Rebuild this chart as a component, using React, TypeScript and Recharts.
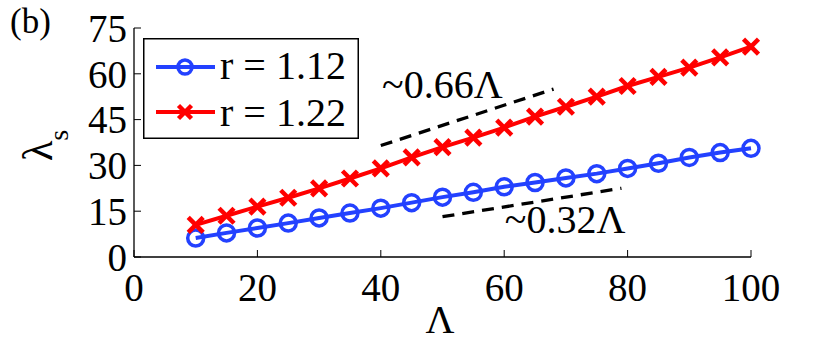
import React from 'react';
import { LineChart, Line, XAxis, YAxis, Legend, ReferenceDot, Customized } from 'recharts';

const lambdaValues = [10, 15, 20, 25, 30, 35, 40, 45, 50, 55, 60, 65, 70, 75, 80, 85, 90, 95, 100];
const r112Values = [6.2, 7.9, 9.5, 11.1, 12.8, 14.4, 16.0, 17.8, 19.6, 21.2, 23.0, 24.4, 25.9, 27.3, 29.0, 30.7, 32.6, 34.2, 35.6];
const r122Values = [10.5, 13.5, 16.5, 19.4, 22.5, 25.7, 29.0, 32.6, 36.0, 39.1, 42.4, 46.0, 49.2, 52.5, 56.0, 59.0, 62.0, 65.4, 68.9];
const xTicks = [0, 20, 40, 60, 80, 100];
const yTicks = [0, 15, 30, 45, 60, 75];
const guide066 = [{ x: 40, y: 36.5 }, { x: 68, y: 55 }];
const guide032 = [{ x: 50, y: 13.2 }, { x: 79, y: 22.5 }];
const seriesNames = ['r = 1.12', 'r = 1.22'];

const data = lambdaValues.map((x, i) => ({ x, a: r112Values[i], b: r122Values[i] }));

const FONT = 'Liberation Serif';
const BLUE = '#2341ff';
const RED = '#ff0000';

const Cross = (props: any) => {
  const { cx, cy, stroke, size = 7 } = props;
  if (cx == null || cy == null) return null;
  return (
    <g>
      <line x1={cx - size} y1={cy - size} x2={cx + size} y2={cy + size} stroke={stroke} strokeWidth={4.5} />
      <line x1={cx - size} y1={cy + size} x2={cx + size} y2={cy - size} stroke={stroke} strokeWidth={4.5} />
    </g>
  );
};

const LegendBox = () => (
  <svg width={216} height={101} style={{ display: 'block' }}>
    <rect x={0.75} y={0.75} width={214.5} height={99.5} fill="#fff" stroke="#000" strokeWidth={1.5} />
    <line x1={13} y1={29} x2={72} y2={29} stroke={BLUE} strokeWidth={4} />
    <circle cx={42} cy={29} r={7} fill="none" stroke={BLUE} strokeWidth={3.5} />
    <text x={77} y={41} fontFamily={FONT} fontSize={40} fill="#000">{seriesNames[0]}</text>
    <line x1={13} y1={74} x2={72} y2={74} stroke={RED} strokeWidth={4} />
    <Cross cx={42} cy={74} stroke={RED} size={6.5} />
    <text x={77} y={88} fontFamily={FONT} fontSize={40} fill="#000">{seriesNames[1]}</text>
  </svg>
);

const Annotation = (text: string) => (props: any) => (
  <text x={props.cx} y={props.cy} fontFamily={FONT} fontSize={40} fill="#000">{text}</text>
);

const Extras = () => (
  <g fill="#000">
    <text x={10} y={33} fontSize={35} fontFamily={FONT}>(b)</text>
    <text x={440} y={333} fontSize={40} textAnchor="middle" fontFamily={FONT}>Λ</text>
    <text transform="translate(52,161) rotate(-90)" fontSize={42} fontFamily={FONT}>
      λ<tspan fontSize={28} dy={16}>s</tspan>
    </text>
  </g>
);

export default function App() {
  const tickStyle = { fontFamily: FONT, fontSize: 39, fill: '#000' };
  return (
    <div style={{ position: 'absolute', left: 0, top: 0, background: '#fff' }}>
      <LineChart width={830} height={347} data={data} margin={{ top: 28, right: 79, left: 54, bottom: 10 }}>
        <XAxis dataKey="x" type="number" domain={[0, 100]} ticks={xTicks} height={80}
          tickSize={-7} tickMargin={23} tick={tickStyle} interval={0}
          axisLine={{ stroke: '#000', strokeWidth: 1.3 }} tickLine={{ stroke: '#000' }} />
        <XAxis xAxisId="top" orientation="top" dataKey="x" type="number" domain={[0, 100]} ticks={xTicks} height={0}
          tickSize={-7} tickFormatter={() => ''} interval={0}
          axisLine={{ stroke: '#000', strokeWidth: 1.3 }} tickLine={{ stroke: '#000' }} />
        <YAxis type="number" domain={[0, 75]} ticks={yTicks} width={80}
          tickSize={-7} tickMargin={14} tick={tickStyle} interval={0}
          axisLine={{ stroke: '#000', strokeWidth: 1.3 }} tickLine={{ stroke: '#000' }} />
        <YAxis yAxisId="right" orientation="right" type="number" domain={[0, 75]} ticks={yTicks} width={0}
          tickSize={-7} tickFormatter={() => ''} interval={0}
          axisLine={{ stroke: '#000', strokeWidth: 1.3 }} tickLine={{ stroke: '#000' }} />
        <Line data={guide066} dataKey="y" stroke="#000" strokeWidth={3.3} strokeDasharray="12 8"
          dot={false} isAnimationActive={false} legendType="none" />
        <Line data={guide032} dataKey="y" stroke="#000" strokeWidth={3.3} strokeDasharray="12 8"
          dot={false} isAnimationActive={false} legendType="none" />
        <Line dataKey="a" name={seriesNames[0]} stroke={BLUE} strokeWidth={4}
          dot={{ r: 8, stroke: BLUE, strokeWidth: 3.5, fill: 'none' }} isAnimationActive={false} />
        <Line dataKey="b" name={seriesNames[1]} stroke={RED} strokeWidth={4}
          dot={(p: any) => <Cross key={p.index} cx={p.cx} cy={p.cy} stroke={RED} size={7.5} />} isAnimationActive={false} />
        <ReferenceDot x={40.2} y={52.1} r={0} ifOverflow="visible" shape={Annotation('~0.66Λ')} />
        <ReferenceDot x={60.1} y={7.9} r={0} ifOverflow="visible" shape={Annotation('~0.32Λ')} />
        <Legend layout="vertical" align="center" verticalAlign="middle" content={() => <LegendBox />}
          wrapperStyle={{ position: 'absolute', left: 143, top: 38, width: 216, height: 101 }} />
        <Customized component={Extras} />
      </LineChart>
    </div>
  );
}
